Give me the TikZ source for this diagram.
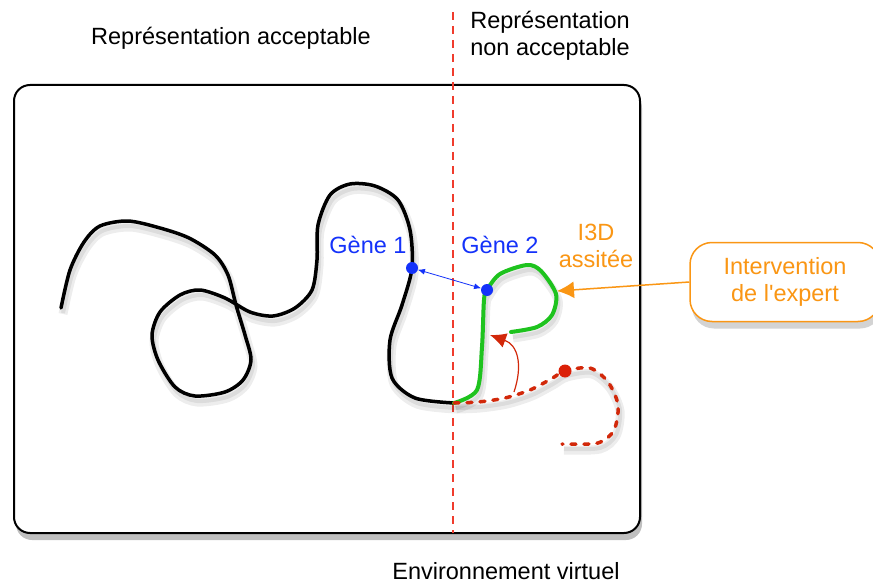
\documentclass[tikz,border=0pt]{standalone}
\usepackage{fontspec}
\setmainfont{Liberation Sans}
\usepackage{tikz}
\usetikzlibrary{arrows.meta,positioning,shadows}

\definecolor{genblue}{RGB}{20,50,250}
\definecolor{expertorange}{RGB}{250,150,20}
\definecolor{okgreen}{RGB}{30,195,30}
\definecolor{badred}{RGB}{210,40,10}
\definecolor{limitred}{RGB}{240,60,45}

\begin{document}
\begin{tikzpicture}[
  x=1pt, y=-1pt,
  font=\fontsize{23.5}{27}\selectfont,
  label/.style={align=center, inner sep=0pt},
  gene/.style={circle, fill=genblue, minimum size=12pt, inner sep=0pt},
  softshadow/.style={preaction={draw=black, opacity=0.07, line width=9pt, transform canvas={shift={(2pt,-6pt)}}},
                     preaction={draw=black, opacity=0.07, line width=4pt, transform canvas={shift={(2pt,-5pt)}}}},
  strand/.style={line width=3.5pt, line cap=round, line join=round, softshadow},
  arrow/.style={-{Latex[length=16pt,width=15pt]}, thick}
]
\useasboundingbox (0,0) rectangle (873,583);

% environnement virtuel
\draw[line width=2pt, rounded corners=16pt, fill=white,
      drop shadow={shadow xshift=2pt, shadow yshift=-7pt, opacity=0.5}]
  (14,85) rectangle (640,533);

% limite acceptable / non acceptable
\draw[limitred, line width=1.5pt, dash pattern=on 8pt off 6pt] (453,12) -- (453,533);

\node[label] (accept) at (231,38) {Représentation acceptable};
\node[label] (nonaccept) at (550,36) {Représentation\\non acceptable};
\node[label] (env) at (506,571) {Environnement virtuel};

% representation acceptable
\draw[strand, black] plot[smooth] coordinates {(61,308) (70,270) (84,242) (100,226) (128,221) (160,228) (189,238) (215,255) (228,275) (236,305) (245,335) (251,360) (243,380) (225,392) (195,396) (175,387) (158,360) (152,335) (160,312) (180,295) (200,290) (225,298) (250,312) (273,316) (295,308) (312,290) (317,260) (318,225) (330,195) (350,184) (375,186) (398,200) (410,230) (412,268) (402,305) (390,340) (392,378) (415,398) (454,403)};

% partie corrigee
\draw[strand, okgreen, line width=4pt] plot[smooth] coordinates {(454,403) (477,390) (482,347) (484,300) (487,290) (500,274) (527,265) (541,271) (556,294) (552,315) (537,327) (511,332)};

% partie non acceptable
\draw[badred, line width=3.5pt, line cap=round, dash pattern=on 5pt off 8pt, softshadow] plot[smooth] coordinates {(454,403) (478,402) (505,398) (530,390) (551,379) (565,371) (590,368) (608,382) (618,405) (614,430) (598,443) (562,444)};

\node[circle, fill=badred!80!red, minimum size=13pt, inner sep=0pt] (badpoint) at (565,371) {};

\node[gene] (gene1) at (412,268) {};
\node[gene] (gene2) at (487,290) {};
\draw[genblue, line width=0.8pt, {Latex[length=7pt,width=6pt]}-{Latex[length=7pt,width=6pt]}] (gene1) -- (gene2);
\node[label, genblue] (gene1label) at (368,245) {Gène 1};
\node[label, genblue] (gene2label) at (500,245) {Gène 2};

% correction
\coordinate (redstart) at (514,392);
\coordinate (redend) at (490,335);
\draw[arrow, badred, line width=1.2pt] (redstart) .. controls (523,365) and (518,345) .. (redend);

% intervention de l'expert
\node[label, expertorange] (i3d) at (596,246) {I3D\\assitée};
\node[label, expertorange, draw, line width=1.5pt, rounded corners=22pt, fill=white,
      minimum width=190pt, minimum height=79pt,
      drop shadow={shadow xshift=2pt, shadow yshift=-7pt, opacity=0.35}] (expert) at (785,282) {Intervention\\de l\textquotesingle expert};
\coordinate (greenloop) at (557,291);
\draw[arrow, expertorange, line width=1.5pt, -{Latex[length=17pt,width=17pt]}] (expert.west) -- (greenloop);
\end{tikzpicture}
\end{document}
